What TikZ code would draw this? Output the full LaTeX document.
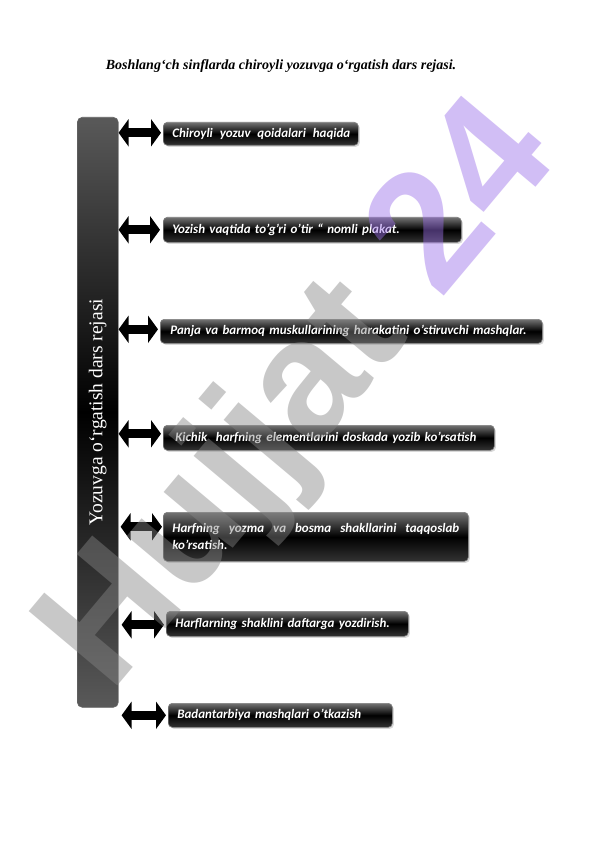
\documentclass[tikz,border=0pt]{standalone}
\usepackage{fontspec}
\setmainfont{Liberation Serif}
\newfontfamily\boxfont{Carlito}
\newfontfamily\wmfont{Liberation Sans}
\usetikzlibrary{arrows.meta,shadows,calc}
\definecolor{wmgray}{HTML}{868686}
\definecolor{wmpurple}{HTML}{9B6FE9}
\tikzset{
  bx/.style={draw=black!50, line width=0.6pt, rounded corners=4pt,
    top color=black!55, bottom color=black!80, middle color=black,
    anchor=north west, inner xsep=9pt, inner ysep=2pt, align=left,
    text=white, font=\boxfont\bfseries\itshape\fontsize{13}{17}\selectfont,
    drop shadow={shadow xshift=1.5pt, shadow yshift=-1.5pt, opacity=0.3}},
  barbox/.style={draw=black!60, line width=0.6pt, rounded corners=5pt,
    top color=black!65, bottom color=black!65, middle color=black,
    anchor=north west, minimum width=41pt, minimum height=590pt, inner sep=0pt},
  dbl/.style={line width=9pt, black,
    {Triangle[width=27pt,length=10pt]}-{Triangle[width=27pt,length=10pt]}},
}
\begin{document}
\begin{tikzpicture}[x=1pt,y=-1pt]
\useasboundingbox[fill=white] (0,0) rectangle (596,842);
\node[font=\bfseries\itshape\fontsize{14}{16}\selectfont] (title) at (281,66)
  {Boshlang‘ch sinflarda chiroyli yozuvga o‘rgatish dars rejasi.};
\node[barbox] (bar) at (77,117) {};
\node[rotate=90, text=white, font=\fontsize{19.5}{22}\selectfont] (barlabel) at (bar.center)
  {Yozuvga o‘rgatish dars rejasi};
\node[bx, text width=177pt, minimum height=23pt] (b1) at (163,122)
  {\makebox[178pt][l]{Chiroyli\hfill yozuv\hfill qoidalari\hfill haqida}};
\node[bx, text width=280pt, minimum height=25pt] (b2) at (163,217)
  {Yozish vaqtida to’g’ri o’tir “ nomli plakat.};
\node[bx, text width=362pt, minimum height=24pt, inner xsep=10pt] (b3) at (160,319)
  {Panja va barmoq muskullarining harakatini o’stiruvchi mashqlar.};
\node[bx, text width=313pt, minimum height=25pt] (b4) at (163,425)
  {\hspace{3pt}Kichik\ \ harfning elementlarini doskada yozib ko’rsatish};
\node[bx, text width=287pt, minimum height=49pt] (b5) at (163,512)
  {\makebox[287pt][l]{Harfning\hfill yozma\hfill va\hfill bosma\hfill shakllarini\hfill taqqoslab}\\ko’rsatish.};
\node[bx, text width=224pt, minimum height=25pt] (b6) at (166,611)
  {Harflarning shaklini daftarga yozdirish.};
\node[bx, text width=206pt, minimum height=24pt] (b7) at (168,703)
  {Badantarbiya mashqlari o’tkazish};
\coordinate (a1) at ([yshift=1pt]b1.west);
\coordinate (a3) at ([yshift=2pt]b3.west);
\coordinate (a4) at ([yshift=4pt]b4.west);
\coordinate (a5) at ([yshift=10pt]b5.west);
\coordinate (a6) at ([yshift=-1pt]b6.west);
\draw[dbl] (a1 -| bar.east) -- ([xshift=-2pt]a1);
\draw[dbl] (b2.west -| bar.east) -- ([xshift=-3pt]b2.west);
\draw[dbl] (a3 -| bar.east) -- ([xshift=-2pt]a3);
\draw[dbl] (a4 -| bar.east) -- ([xshift=-2pt]a4);
\draw[dbl] ([xshift=2pt]a5 -| bar.east) -- ([xshift=-1pt]a5);
\draw[dbl] ([xshift=3pt]a6 -| bar.east) -- ([xshift=-2pt]a6);
\draw[dbl] ([xshift=3pt]b7.west -| bar.east) -- ([xshift=-2pt]b7.west);
\node[rotate=50, opacity=0.45, font=\wmfont\bfseries\fontsize{168}{168}\selectfont] (wm) at (302,398)
  {\textcolor{wmgray}{Hujjat} \textcolor{wmpurple}{24}};
\end{tikzpicture}
\end{document}
